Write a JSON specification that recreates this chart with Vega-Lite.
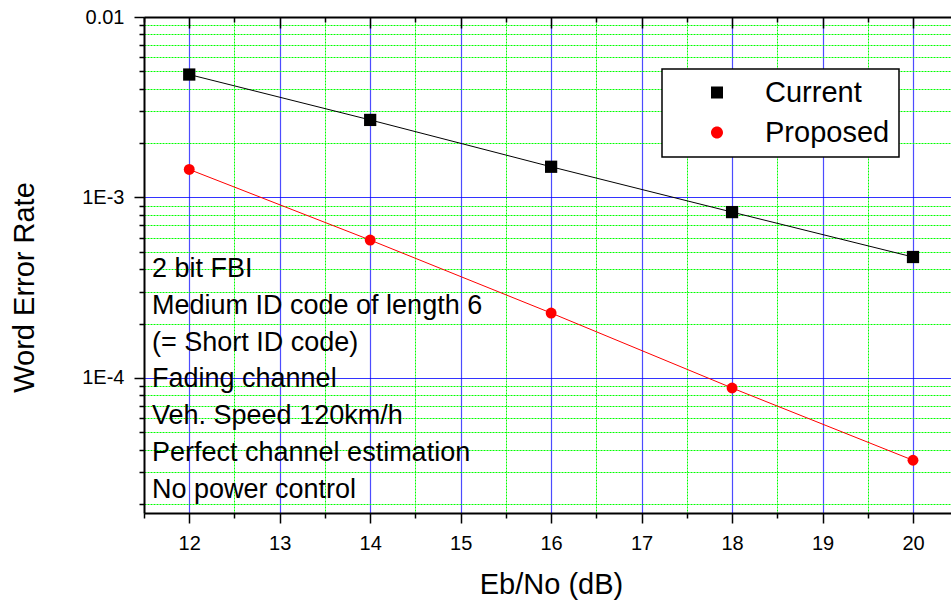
{
  "$schema": "https://vega.github.io/schema/vega-lite/v6.json",
  "width": 807,
  "height": 496,
  "autosize": {"type": "none"},
  "padding": {"left": 144, "top": 17, "right": 0, "bottom": 88},
  "background": "white",
  "config": {
    "view": {"stroke": null},
    "font": "Liberation Sans",
    "legend": {"strokeWidth": 1.5},
    "axis": {
      "domainColor": "#000000",
      "domainWidth": 2,
      "tickColor": "#000000",
      "tickWidth": 1.5,
      "labelColor": "#000000",
      "labelFont": "Liberation Sans",
      "labelFontSize": 20,
      "titleFont": "Liberation Sans",
      "titleFontSize": 29,
      "titleFontWeight": "normal",
      "titleColor": "#000000"
    }
  },
  "datasets": {
    "wer": [
      {"series": "Current", "ebno": 12, "wer": 0.0048},
      {"series": "Current", "ebno": 14, "wer": 0.00269},
      {"series": "Current", "ebno": 16, "wer": 0.00148},
      {"series": "Current", "ebno": 18, "wer": 0.00083},
      {"series": "Current", "ebno": 20, "wer": 0.000468},
      {"series": "Proposed", "ebno": 12, "wer": 0.00143},
      {"series": "Proposed", "ebno": 14, "wer": 0.000581},
      {"series": "Proposed", "ebno": 16, "wer": 0.000229},
      {"series": "Proposed", "ebno": 18, "wer": 0.000088},
      {"series": "Proposed", "ebno": 20, "wer": 0.000035}
    ],
    "notes": [
      {"note": "2 bit FBI\nMedium ID code of length 6\n(= Short ID code)\nFading channel\nVeh. Speed 120km/h\nPerfect channel estimation\nNo power control"}
    ]
  },
  "layer": [
    {
      "data": {"name": "wer"},
      "mark": {"type": "line", "strokeWidth": 1},
      "encoding": {
        "x": {
          "field": "ebno",
          "type": "quantitative",
          "scale": {"domain": [11.5, 20.42], "nice": false, "zero": false},
          "axis": {
            "orient": "bottom",
            "values": [12, 13, 14, 15, 16, 17, 18, 19, 20],
            "format": "d",
            "labelOverlap": false,
            "labelFlush": false,
            "labelBound": false,
            "labelPadding": 10,
            "tickSize": 10,
            "grid": true,
            "gridColor": "#0000ff",
            "gridWidth": 1.2,
            "gridOpacity": 0.7,
            "title": "Eb/No (dB)",
            "titleX": 407,
            "titleY": 80,
            "titleBaseline": "alphabetic",
            "titleAlign": "center",
            "titleAngle": 0
          }
        },
        "y": {
          "field": "wer",
          "type": "quantitative",
          "scale": {"type": "log", "domain": [0.00001786, 0.01], "nice": false},
          "axis": {
            "orient": "left",
            "values": [0.0001, 0.001, 0.01],
            "labelExpr": "datum.value > 0.005 ? '0.01' : datum.value > 0.0005 ? '1E-3' : '1E-4'",
            "labelOverlap": false,
            "labelFlush": false,
            "labelBound": false,
            "labelPadding": 10,
            "tickSize": 10,
            "grid": true,
            "gridColor": "#0000ff",
            "gridWidth": 1.2,
            "gridOpacity": 0.8,
            "title": "Word Error Rate",
            "titleX": -111,
            "titleY": 270,
            "titleAngle": 270,
            "titleBaseline": "alphabetic",
            "titleAlign": "center"
          }
        },
        "color": {
          "field": "series",
          "type": "nominal",
          "scale": {"domain": ["Current", "Proposed"], "range": ["#000000", "#ff0000"]},
          "legend": null
        }
      }
    },
    {
      "data": {"name": "wer"},
      "transform": [{"filter": "datum.series === 'Current'"}],
      "mark": {"type": "point", "filled": true, "opacity": 1, "shape": "square", "size": 150},
      "encoding": {
        "x": {
          "field": "ebno",
          "type": "quantitative",
          "axis": {
            "orient": "bottom",
            "values": [11.5, 12.5, 13.5, 14.5, 15.5, 16.5, 17.5, 18.5, 19.5],
            "labels": false,
            "domain": false,
            "tickSize": 5,
            "grid": true,
            "gridColor": "#00ff00",
            "gridDash": [2, 1],
            "gridWidth": 1,
            "gridOpacity": 1,
            "title": null
          }
        },
        "y": {
          "field": "wer",
          "type": "quantitative",
          "axis": {
            "orient": "left",
            "values": [0.00002, 0.00003, 0.00004, 0.00005, 0.00006, 0.00007, 0.00008, 0.00009, 0.0002, 0.0003, 0.0004, 0.0005, 0.0006, 0.0007, 0.0008, 0.0009, 0.002, 0.003, 0.004, 0.005, 0.006, 0.007, 0.008, 0.009],
            "labels": false,
            "domain": false,
            "tickSize": 5,
            "grid": true,
            "gridColor": "#00ff00",
            "gridDash": [2, 1],
            "gridWidth": 1,
            "gridOpacity": 1,
            "title": null
          }
        },
        "color": {"field": "series", "type": "nominal", "legend": null}
      }
    },
    {
      "data": {"name": "wer"},
      "transform": [{"filter": "datum.series === 'Proposed'"}],
      "mark": {"type": "point", "filled": true, "opacity": 1, "shape": "circle", "size": 119},
      "encoding": {
        "x": {"field": "ebno", "type": "quantitative", "axis": null},
        "y": {"field": "wer", "type": "quantitative", "axis": null},
        "color": {"field": "series", "type": "nominal", "legend": null}
      }
    },
    {
      "data": {"name": "notes"},
      "mark": {
        "type": "text",
        "align": "left",
        "baseline": "top",
        "lineBreak": "\n",
        "lineHeight": 36.8,
        "fontSize": 27,
        "font": "Liberation Sans",
        "color": "#000000",
        "dx": 8
      },
      "encoding": {
        "x": {"datum": 11.5, "type": "quantitative", "axis": null},
        "y": {"datum": 0.0004742, "type": "quantitative", "axis": null},
        "text": {"field": "note", "type": "nominal"}
      }
    },
    {
      "data": {"name": "wer"},
      "transform": [{"filter": "false"}],
      "mark": {
        "type": "point",
        "fill": {"expr": "datum.value === 'Current' ? '#000000' : '#ff0000'"}
      },
      "encoding": {
        "x": {
          "field": "ebno",
          "type": "quantitative",
          "axis": {
            "orient": "top",
            "values": [12, 13, 14, 15, 16, 17, 18, 19, 20],
            "labels": false,
            "grid": false,
            "tickSize": -11,
            "title": null
          }
        },
        "y": {"field": "wer", "type": "quantitative", "axis": null},
        "shape": {
          "field": "series",
          "type": "nominal",
          "scale": {
            "domain": ["Current", "Proposed"],
            "range": [
              "M-1.0833,0L11.583,0M4.25,-1L6.25,-1L6.25,1L4.25,1Z",
              "M-1.0833,0L11.583,0M6.25,0A1,1,0,1,1,4.25,0A1,1,0,1,1,6.25,0Z"
            ]
          },
          "legend": {
            "orient": "none", "legendX": 518, "legendY": 52, "title": null,
            "labelFont": "Liberation Sans", "labelFontSize": 29, "labelColor": "#000000",
            "labelExpr": "datum.label + '\u00a0'",
            "padding": 9, "rowPadding": 10, "symbolSize": 144, "symbolOffset": 0,
            "labelOffset": 65, "symbolStrokeWidth": 1, "symbolOpacity": 1,
            "symbolStrokeColor": {"expr": "datum.value === 'Current' ? '#000000' : '#ff0000'"},
            "fillColor": "#ffffff", "strokeColor": "#000000"
          }
        }
      }
    },
    {
      "data": {"name": "wer"},
      "transform": [{"filter": "false"}],
      "mark": {"type": "point"},
      "encoding": {
        "x": {
          "field": "ebno",
          "type": "quantitative",
          "axis": {
            "orient": "top",
            "values": [11.5, 12.5, 13.5, 14.5, 15.5, 16.5, 17.5, 18.5, 19.5],
            "labels": false,
            "domain": false,
            "grid": false,
            "tickSize": -5,
            "title": null
          }
        },
        "y": {"field": "wer", "type": "quantitative", "axis": null}
      }
    }
  ],
  "resolve": {
    "axis": {"x": "independent", "y": "independent"},
    "scale": {"shape": "independent"},
    "legend": {"shape": "independent"}
  }
}
